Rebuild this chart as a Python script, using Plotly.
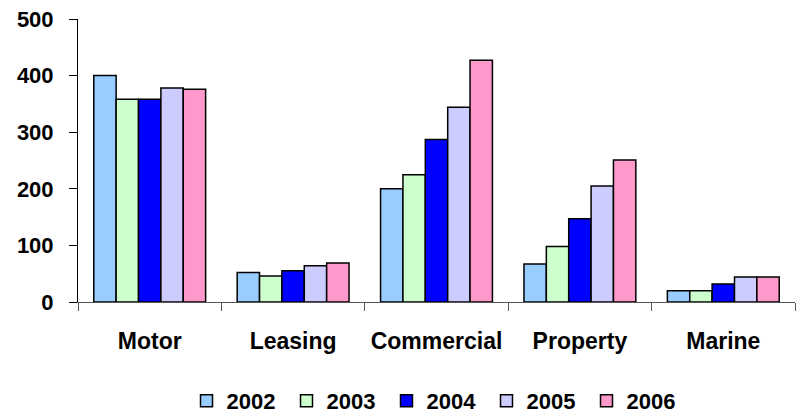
import plotly.graph_objects as go

categories = ["Motor", "Leasing", "Commercial", "Property", "Marine"]
years = ["2002", "2003", "2004", "2005", "2006"]
values_2002 = [400, 52, 200, 67, 20]
values_2003 = [358, 46, 225, 98, 20]
values_2004 = [358, 55, 287, 147, 32]
values_2005 = [378, 64, 344, 205, 44]
values_2006 = [376, 69, 427, 251, 44]
colors = ["#99CCFF", "#CCFFCC", "#0000FF", "#CCCCFF", "#FF99CC"]

series = [values_2002, values_2003, values_2004, values_2005, values_2006]

fig = go.Figure()
for year, vals, col in zip(years, series, colors):
    fig.add_trace(go.Bar(
        x=categories, y=vals, name=year,
        marker=dict(color=col, line=dict(color="#000000", width=1.5)),
    ))

font_family = "Liberation Sans, Arial, sans-serif"
num_font = dict(family=font_family, size=22, color="#000000", weight="bold")
cat_font = dict(family=font_family, size=23, color="#000000", weight="bold")
fig.update_layout(
    width=801, height=415,
    margin=dict(l=78, r=6, t=19, b=113, autoexpand=False),
    paper_bgcolor="white", plot_bgcolor="white",
    barmode="group", bargap=0.22, bargroupgap=0,
    font=dict(family=font_family, size=22, color="#000000"),
    showlegend=True,
    legend=dict(
        orientation="h", x=0.5, xanchor="center", y=-0.275, yanchor="top",
        font=num_font,
        entrywidth=55, entrywidthmode="pixels",
        itemwidth=30, tracegroupgap=0,
    ),
)
fig.update_xaxes(
    showline=True, linecolor="#555555", linewidth=1,
    tickson="boundaries", ticks="outside", ticklen=8, tickcolor="#555555",
    tickfont=cat_font,
    ticklabelstandoff=18,
    showgrid=False, zeroline=False,
)
fig.update_yaxes(
    range=[0, 500], dtick=100,
    showline=True, linecolor="#000000", linewidth=1,
    ticks="outside", ticklen=8, tickcolor="#000000",
    tickfont=num_font,
    ticklabelstandoff=11,
    showgrid=False, zeroline=False,
)

fig.write_html("out.html")
